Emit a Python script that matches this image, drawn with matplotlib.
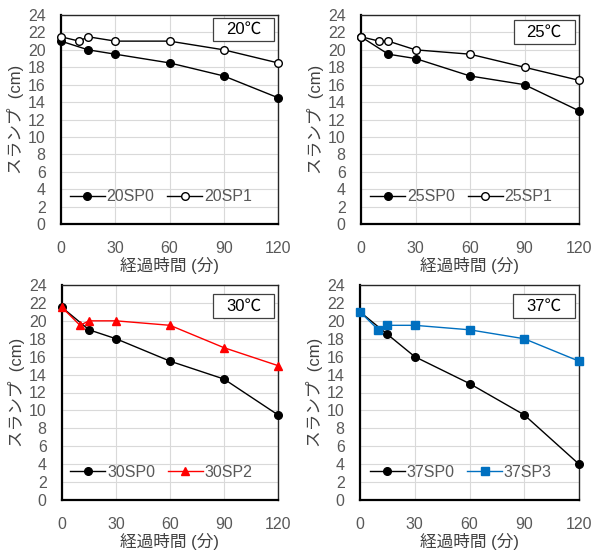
import matplotlib
matplotlib.use("Agg")
import matplotlib.pyplot as plt
from matplotlib.patches import Rectangle

plt.rcParams['font.family'] = ['Liberation Sans', 'Noto Sans CJK JP', 'DejaVu Sans']

x_sp0 = [0, 15, 30, 60, 90, 120]
x_sp = [0, 10, 15, 30, 60, 90, 120]

y20_sp0 = [21, 20, 19.5, 18.5, 17, 14.5]
y20_sp1 = [21.5, 21, 21.5, 21, 21, 20, 18.5]
y25_sp0 = [21.5, 19.5, 19, 17, 16, 13]
y25_sp1 = [21.5, 21, 21, 20, 19.5, 18, 16.5]
y30_sp0 = [21.5, 19, 18, 15.5, 13.5, 9.5]
y30_sp2 = [21.5, 19.5, 20, 20, 19.5, 17, 15]
y37_sp0 = [21, 18.5, 16, 13, 9.5, 4]
y37_sp3 = [21, 19, 19.5, 19.5, 19, 18, 15.5]

panels = [
    ("20℃", "20SP0", y20_sp0, "20SP1", y20_sp1, dict(color="black", marker="o", mfc="white", mec="black")),
    ("25℃", "25SP0", y25_sp0, "25SP1", y25_sp1, dict(color="black", marker="o", mfc="white", mec="black")),
    ("30℃", "30SP0", y30_sp0, "30SP2", y30_sp2, dict(color="#FF0000", marker="^", mfc="#FF0000", mec="#FF0000")),
    ("37℃", "37SP0", y37_sp0, "37SP3", y37_sp3, dict(color="#0070C0", marker="s", mfc="#0070C0", mec="#0070C0")),
]

W, H = 592, 551
rects = [
    (61, 15, 278, 224),
    (361, 15, 579, 224),
    (62, 285, 278, 500),
    (360, 285, 579, 500),
]
boxes = [
    (0.70, 0.875, 0.28, 0.11),
    (0.70, 0.862, 0.28, 0.114),
    (0.70, 0.847, 0.28, 0.111),
    (0.70, 0.847, 0.28, 0.111),
]

fig = plt.figure(figsize=(W / 100, H / 100), dpi=100)
gray = "#595959"

for (title, n0, y0, n1, y1, st), (l, t, r, b), (bx, by, bw, bh) in zip(panels, rects, boxes):
    ax = fig.add_axes([l / W, 1 - b / H, (r - l) / W, (b - t) / H])
    ax.set_xlim(0, 120)
    ax.set_ylim(0, 24)
    ax.set_xticks([0, 30, 60, 90, 120])
    ax.set_yticks(range(0, 25, 2))
    ax.grid(True, color="#D9D9D9", linewidth=0.8)
    ax.set_axisbelow(True)
    ax.tick_params(length=0, labelsize=11.5, colors=gray)
    ax.tick_params(axis='y', pad=11)
    ax.tick_params(axis='x', pad=12)
    for s in ['left', 'bottom']:
        ax.spines[s].set_linewidth(1.6)
        ax.spines[s].set_color('black')
    for s in ['top', 'right']:
        ax.spines[s].set_linewidth(1.0)
        ax.spines[s].set_color('#262626')
    ax.plot(x_sp0, y0, color="black", marker="o", mfc="black", mec="black",
            ms=5.5, lw=1.0, label=n0, clip_on=False, zorder=3)
    ax.plot(x_sp, y1, ms=5.5, lw=1.0, label=n1, clip_on=False, zorder=4, **st)
    ax.legend(loc="center", bbox_to_anchor=(0.46, 0.13), ncol=2, frameon=False,
              fontsize=11.5, handlelength=2.2, handletextpad=0.1, columnspacing=0.8,
              labelcolor=gray, borderpad=0)
    ax.add_patch(Rectangle((bx, by), bw, bh, transform=ax.transAxes, fc="white",
                           ec="#404040", lw=0.9, zorder=5))
    ax.text(bx + bw / 2, by + bh / 2, title, transform=ax.transAxes, ha="center",
            va="center", fontsize=12, color="black", zorder=6)
    ax.set_xlabel("経過時間 (分)", fontsize=12, color="#404040", labelpad=1)
    ax.set_ylabel("スランプ  (cm)", fontsize=12, color="#404040", labelpad=3)

fig.savefig("out.png", dpi=100)
